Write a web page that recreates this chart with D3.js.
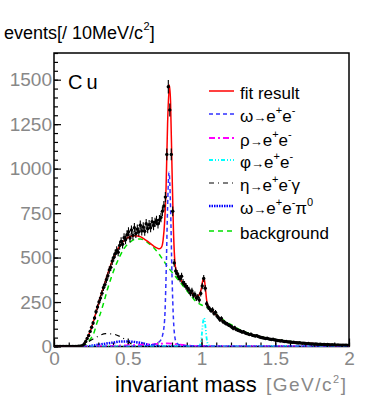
<!DOCTYPE html>
<html>
<head>
<meta charset="utf-8">
<script src="https://cdn.jsdelivr.net/npm/d3@7"></script>
<style>
  body { margin: 0; background: #fff; }
  svg { display: block; font-family: "Liberation Sans", Arial, sans-serif; }
</style>
</head>
<body>
<div id="chart"></div>
<script>
// events per 10 MeV bin, 0.00 - 2.00 GeV/c2 (200 bins)
var binWidth = 0.01;
var counts = [
  0, 0, 0, 0, 0, 0, 0, 0, 0, 0,
  0, 0, 0, 0, 0, 0, 1, 2, 3, 6,
  14, 28, 45, 62, 85, 108, 132, 160, 195, 222,
  250, 272, 300, 330, 348, 375, 398, 430, 445, 480,
  500, 522, 540, 530, 568, 590, 575, 612, 600, 628,
  645, 610, 655, 625, 668, 635, 660, 645, 682, 650,
  672, 648, 690, 662, 685, 668, 702, 680, 698, 708,
  690, 712, 725, 760, 790, 840, 1080, 1460, 1330, 1080,
  760, 470, 425, 410, 392, 380, 395, 360, 350, 338,
  328, 318, 300, 312, 288, 292, 272, 278, 262, 298,
  340, 382, 328, 240, 222, 212, 202, 206, 186, 192,
  172, 162, 150, 158, 140, 136, 130, 126, 120, 116,
  110, 102, 106, 96, 93, 89, 86, 81, 83, 77,
  73, 71, 67, 69, 63, 61, 59, 61, 56, 53,
  51, 49, 47, 45, 46, 43, 41, 39, 41, 37,
  36, 34, 33, 31, 32, 29, 28, 29, 26, 25,
  25, 23, 24, 22, 21, 20, 21, 19, 18, 19,
  17, 16, 17, 15, 14, 15, 13, 14, 13, 12,
  12, 11, 12, 11, 10, 11, 10, 9, 10, 9,
  9, 8, 9, 8, 8, 7, 8, 7, 7, 6
];

// fit curves, [mass, events]
var fitResult = [[0,0],[0.18,0],[0.2,10],[0.226,49],[0.25,95],[0.271,152],[0.3,235],[0.316,283],[0.34,345],[0.362,404],
  [0.385,460],[0.407,507],[0.43,545],[0.452,573],[0.475,595],[0.497,610],[0.52,620],[0.542,623],[0.565,621],[0.588,616],
  [0.61,605],[0.633,592],[0.655,578],[0.678,563],[0.7,553],[0.715,549],[0.73,560],[0.74,600],[0.75,700],[0.76,900],
  [0.77,1250],[0.782,1470],[0.79,1380],[0.8,1000],[0.81,650],[0.82,470],[0.83,420],[0.859,376],[0.88,350],[0.904,330],
  [0.93,305],[0.949,292],[0.97,280],[0.99,300],[1.0,330],[1.01,375],[1.017,386],[1.025,340],[1.035,260],[1.045,225],
  [1.06,210],[1.085,189],[1.13,155],[1.17,128],[1.22,105],[1.26,88],[1.31,73],[1.356,62],[1.4,53],[1.5,38],
  [1.6,27],[1.7,19],[1.8,14],[1.9,10],[2.0,8]];
var background = [[0.19,0],[0.22,15],[0.25,45],[0.271,77],[0.29,130],[0.316,189],[0.34,255],[0.362,320],[0.385,380],
  [0.407,432],[0.43,478],[0.452,517],[0.475,550],[0.497,573],[0.52,590],[0.542,601],[0.565,605],[0.588,605],[0.61,598],
  [0.633,586],[0.655,572],[0.678,554],[0.7,532],[0.723,507],[0.745,480],[0.768,451],[0.79,428],[0.814,404],[0.836,381],
  [0.859,358],[0.88,335],[0.904,311],[0.93,285],[0.949,264],[0.97,248],[0.994,236],[1.02,225],[1.04,217],[1.085,190],
  [1.13,161],[1.17,137],[1.22,114],[1.26,95],[1.31,77],[1.356,64],[1.4,55],[1.5,39],[1.6,28],[1.7,20],[1.8,14],
  [1.9,10],[2.0,8]];
var omegaEE = [[0,0],[0.55,1],[0.6,3],[0.65,6],[0.68,12],[0.7,20],[0.72,32],[0.735,60],[0.75,150],[0.76,400],[0.77,780],
  [0.78,980],[0.79,790],[0.8,400],[0.81,150],[0.82,50],[0.83,22],[0.85,10],[0.9,4],[1.0,2],[1.2,0],[2.0,0]];
var rhoEE = [[0,0],[0.25,0],[0.3,2],[0.4,4],[0.5,7],[0.6,10],[0.7,14],[0.77,18],[0.85,10],[0.92,5],[1.0,3],[1.2,1],[1.5,0],[2.0,0]];
var phiEE = [[0,0],[0.95,0],[0.98,2],[0.99,10],[1.0,50],[1.01,135],[1.018,160],[1.027,110],[1.035,45],[1.045,10],[1.06,2],[1.1,0],[2.0,0]];
var etaDalitz = [[0.15,0],[0.2,10],[0.25,35],[0.3,58],[0.35,72],[0.4,70],[0.45,55],[0.5,30],[0.54,6],[0.56,0]];
var omegaDalitz = [[0,0],[0.2,0],[0.3,10],[0.4,22],[0.45,28],[0.5,28],[0.55,25],[0.6,18],[0.65,8],[0.7,2],[0.75,0],[2.0,0]];

var yTicks = [0, 250, 500, 750, 1000, 1250, 1500];
var xTicks = [0, 0.5, 1, 1.5, 2];
var xTickLabels = ["0", "0.5", "1", "1.5", "2"];

var W = 382, H = 409;
var plotLeft = 54, plotRight = 349, plotTop = 53, plotBottom = 346.5;

var svg = d3.select("#chart").append("svg")
    .attr("width", W)
    .attr("height", H);

var x = d3.scaleLinear().domain([0, 2]).range([plotLeft, plotRight]);
var y = d3.scaleLinear().domain([0, 1650]).range([plotBottom, plotTop]);

svg.append("clipPath").attr("id", "plot")
  .append("rect")
    .attr("x", plotLeft).attr("y", plotTop - 2)
    .attr("width", plotRight - plotLeft).attr("height", plotBottom - plotTop + 2);

// axes
var yAxis = d3.axisLeft(y).tickValues(yTicks).tickSize(-7).tickPadding(2).tickFormat(d3.format("d"));
var yMinor = d3.axisLeft(y).tickValues(d3.range(0, 1651, 50)).tickSize(-4).tickFormat("");
var xAxis = d3.axisBottom(x).tickValues(xTicks).tickSize(-8).tickPadding(5)
    .tickFormat(function(d, i) { return xTickLabels[i]; });
var xMinor = d3.axisBottom(x).tickValues(d3.range(0, 2.001, 0.1)).tickSize(-4).tickFormat("");

svg.append("g").attr("transform", "translate(" + plotLeft + ",0)").call(yMinor);
var gy = svg.append("g").attr("transform", "translate(" + plotLeft + ",0)").call(yAxis);
svg.append("g").attr("transform", "translate(0," + plotBottom + ")").call(xMinor);
var gx = svg.append("g").attr("transform", "translate(0," + plotBottom + ")").call(xAxis);

svg.selectAll(".domain").remove();
svg.selectAll(".tick line").attr("stroke", "#000").attr("stroke-width", 1.2);
[gx, gy].forEach(function(g) {
  g.selectAll("text")
    .attr("fill", "#888")
    .style("font-size", "19px")
    .style("font-family", "'Liberation Sans', Arial, sans-serif");
});

// frame
svg.append("rect")
    .attr("x", plotLeft).attr("y", plotTop)
    .attr("width", plotRight - plotLeft).attr("height", plotBottom - plotTop)
    .attr("fill", "none")
    .attr("stroke", "#000")
    .attr("stroke-width", 1.5);

var line = d3.line()
    .x(function(d) { return x(d[0]); })
    .y(function(d) { return y(d[1]); })
    .curve(d3.curveMonotoneX);

var plot = svg.append("g").attr("clip-path", "url(#plot)");

var curves = [
  {data: background, color: "#00e000", width: 1.5, dash: "5,4"},
  {data: omegaDalitz, color: "#0000ff", width: 2.5, dash: "1.5,1"},
  {data: rhoEE, color: "#ff00ff", width: 1.8, dash: "6,3,2,3"},
  {data: etaDalitz, color: "#000", width: 1.2, dash: "5,4,1,4"},
  {data: phiEE, color: "#00ffff", width: 1.8, dash: "4,2,1,2,1,2"},
  {data: omegaEE, color: "#3030ff", width: 1.5, dash: "4,3"},
  {data: fitResult, color: "#ff0000", width: 1.5, dash: null}
];

plot.selectAll("path.curve")
    .data(curves)
    .enter()
    .append("path")
    .attr("class", "curve")
    .attr("d", function(d) { return line(d.data); })
    .attr("fill", "none")
    .attr("stroke", function(d) { return d.color; })
    .attr("stroke-width", function(d) { return d.width; })
    .attr("stroke-dasharray", function(d) { return d.dash; });

// data points with statistical error bars
var points = counts.map(function(c, i) {
  return {m: (i + 0.5) * binWidth, v: c, e: Math.sqrt(c)};
});

var pt = plot.selectAll("g.pt")
    .data(points)
    .enter()
    .append("g")
    .attr("class", "pt");

pt.append("line")
    .attr("x1", function(d) { return x(d.m); })
    .attr("x2", function(d) { return x(d.m); })
    .attr("y1", function(d) { return y(d.v - d.e); })
    .attr("y2", function(d) { return y(d.v + d.e); })
    .attr("stroke", "#000")
    .attr("stroke-width", 1.1);

pt.append("line")
    .attr("x1", function(d) { return x(d.m - binWidth / 2); })
    .attr("x2", function(d) { return x(d.m + binWidth / 2); })
    .attr("y1", function(d) { return y(d.v); })
    .attr("y2", function(d) { return y(d.v); })
    .attr("stroke", "#000")
    .attr("stroke-width", 1);

pt.append("circle")
    .attr("cx", function(d) { return x(d.m); })
    .attr("cy", function(d) { return y(d.v); })
    .attr("r", 1.7)
    .attr("fill", "#000");

// titles
var title = svg.append("text")
    .attr("x", 4).attr("y", 39)
    .style("font-size", "18px")
    .attr("fill", "#000");
title.append("tspan").text("events[/ 10MeV/c");
title.append("tspan").attr("dy", -9).attr("dx", 0.5).style("font-size", "11px").text("2");
title.append("tspan").attr("dy", 9).text("]");

svg.append("text")
    .attr("x", 68).attr("y", 89)
    .style("font-size", "20px")
    .style("letter-spacing", "4px")
    .text("Cu");

svg.append("text")
    .attr("x", 115).attr("y", 392)
    .style("font-size", "22px")
    .text("invariant mass");

var unit = svg.append("text")
    .attr("x", 266).attr("y", 391)
    .style("font-size", "19px")
    .style("letter-spacing", "1.5px")
    .attr("fill", "#888");
unit.append("tspan").text("[GeV/c");
unit.append("tspan").attr("dy", -8).style("font-size", "11px").text("2");
unit.append("tspan").attr("dy", 8).text("]");

// legend
var legendRows = [
  {c: curves[6], y: 91, parts: [["fit result", 0]]},
  {c: curves[5], y: 114, parts: [["\u03c9", 0], ["\u2192", 0, true], ["e", 0], ["+", -8], ["e", 8], ["-", -8]]},
  {c: curves[2], y: 138, parts: [["\u03c1", 0], ["\u2192", 0, true], ["e", 0], ["+", -8], ["e", 8], ["-", -8]]},
  {c: curves[4], y: 160, parts: [["\u03c6", 0], ["\u2192", 0, true], ["e", 0], ["+", -8], ["e", 8], ["-", -8]]},
  {c: curves[3], y: 183, parts: [["\u03b7", 0], ["\u2192", 0, true], ["e", 0], ["+", -8], ["e", 8], ["-", -8], ["\u03b3", 8]]},
  {c: curves[1], y: 206, parts: [["\u03c9", 0], ["\u2192", 0, true], ["e", 0], ["+", -8], ["e", 8], ["-", -8], ["\u03c0", 8], ["0", -8]]},
  {c: curves[0], y: 231, parts: [["background", 0]]}
];

var leg = svg.selectAll("g.leg")
    .data(legendRows)
    .enter()
    .append("g")
    .attr("class", "leg");

leg.append("line")
    .attr("x1", 209).attr("x2", 234)
    .attr("y1", function(d) { return d.y; })
    .attr("y2", function(d) { return d.y; })
    .attr("stroke", function(d) { return d.c.color; })
    .attr("stroke-width", function(d) { return d.c.width; })
    .attr("stroke-dasharray", function(d) { return d.c.dash; });

leg.append("text")
    .attr("x", 240)
    .attr("y", function(d) { return d.y + 8; })
    .style("font-size", "17px")
    .each(function(d) {
      var t = d3.select(this);
      d.parts.forEach(function(p) {
        var s = t.append("tspan").attr("dy", p[1]).text(p[0]);
        if (p[1] < 0) s.style("font-size", "11px");
        if (p[2]) s.style("font-size", "13px");
      });
    });
</script>
</body>
</html>
